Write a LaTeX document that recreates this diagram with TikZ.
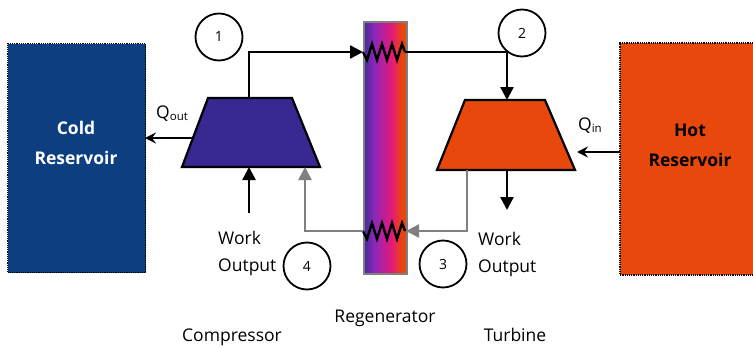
\documentclass[tikz,border=0pt]{standalone}
\usepackage{fontspec}
\setmainfont{Open Sans}
\usetikzlibrary{arrows.meta}
\definecolor{coldblue}{RGB}{12,62,128}
\definecolor{hotorange}{RGB}{232,72,12}
\definecolor{compblue}{RGB}{56,40,145}
\definecolor{regA}{RGB}{60,44,150}
\definecolor{regB}{RGB}{140,40,185}
\definecolor{regC}{RGB}{228,24,122}
\definecolor{regD}{RGB}{232,70,14}
\definecolor{pipegray}{RGB}{128,128,128}
\pgfdeclarehorizontalshading{regenshade}{100bp}{color(0bp)=(regA); color(25bp)=(regA); color(38bp)=(regB); color(58bp)=(regC); color(70bp)=(regD); color(100bp)=(regD)}
\tikzset{
  reservoir/.style={draw=black, densely dotted, line width=1.2pt, inner sep=0pt},
  statecirc/.style={draw=black, circle, line width=1.8pt, minimum size=47pt, inner sep=0pt, font=\fontsize{14}{16}\selectfont},
  pipe/.style={line width=2.4pt, black},
  graypipe/.style={line width=2.4pt, pipegray},
  tri/.style={-{Triangle[length=13pt,width=13pt]}},
  heat/.style={line width=2pt, -{Stealth[length=11pt,width=11pt,inset=4pt]}},
  lbl/.style={font=\fontsize{17.5}{21}\selectfont, inner sep=0pt},
  worklbl/.style={font=\fontsize{17.5}{27}\selectfont, align=left, inner sep=0pt},
  machine/.style={draw=black, line width=2.2pt, line join=miter},
  coil/.style={line width=2.4pt, black, line join=miter}
}
\begin{document}
\begin{tikzpicture}[x=1pt,y=-1pt]
\useasboundingbox (0,0) rectangle (753,348);
% reservoirs
\node[reservoir, fill=coldblue, minimum width=138pt, minimum height=229pt, anchor=north west] (cold) at (7,43) {};
\node[text=white, font=\bfseries\fontsize{17.5}{30}\selectfont, align=center] at (76,143) {Cold\\Reservoir};
\fill[hotorange] (620,43) rectangle (753,275);
\draw[black, densely dotted, line width=1.2pt] (753,43) -- (620,43) -- (620,275) -- (753,275);
\coordinate (hotedge) at (620,152);
\node[text=black, font=\bfseries\fontsize{17.5}{30}\selectfont, align=center] at (690,145) {Hot\\Reservoir};
% regenerator
\shade[shading=regenshade] (363,21) rectangle (406,273);
\node[draw=pipegray, line width=1.8pt, minimum width=43pt, minimum height=252pt, anchor=north west, inner sep=0pt] (regen) at (363,21) {};
% compressor
\draw[machine, fill=compblue] (208,98) -- (292,98) -- (320,167) -- (182,167) -- cycle;
\coordinate (compout) at (249,98);
\coordinate (compheat) at (193,138);
\coordinate (compwork) at (249,167);
\coordinate (compin) at (305,167);
% turbine
\draw[machine, fill=hotorange] (465,100) -- (545,100) -- (575,170) -- (437,170) -- cycle;
\coordinate (turbin) at (507,100);
\coordinate (turbout) at (467,170);
\coordinate (turbwork) at (507,170);
\coordinate (turbheat) at (577,152);
% coils
\draw[coil] (363,52) -- (367,60) -- (372,44) -- (377,60) -- (382,44) -- (387,60) -- (392,44) -- (397,60) -- (402,44) -- (405,52);
\draw[coil] (363,231) -- (367,239) -- (372,223) -- (377,239) -- (382,223) -- (387,239) -- (392,223) -- (397,239) -- (402,223) -- (405,231);
\coordinate (reginTop) at (363,52);
\coordinate (regoutTop) at (405,52);
\coordinate (reginBot) at (406,231);
\coordinate (regoutBot) at (363,231);
% pipes
\draw[pipe, tri] (compout) -- (249,52) -- (reginTop);
\draw[pipe, tri] (regoutTop) -- (507,52) -- (turbin);
\draw[graypipe, -{Triangle[length=13pt,width=13pt]}] (turbout) -- (467,231) -- (reginBot);
\draw[graypipe, -{Triangle[length=13pt,width=13pt]}] (regoutBot) -- (305,231) -- (compin);
\coordinate (workin) at (249,213);
\coordinate (workout) at (507,210);
\draw[pipe, tri] (workin) -- (compwork);
\draw[pipe, tri] (turbwork) -- (workout);
% heat
\coordinate (coldedge) at (145,138);
\draw[heat] (compheat) -- (coldedge);
\draw[heat] (hotedge) -- (turbheat);
\node[lbl, anchor=base west] (qout) at (156,118) {Q\raisebox{-0.25ex}{\fontsize{11.5}{12}\selectfont out}};
\node[lbl, anchor=base west] (qin) at (578,130) {Q\raisebox{-0.25ex}{\fontsize{11.5}{12}\selectfont in}};
% state circles
\node[statecirc] (s1) at (219,37) {1};
\node[statecirc] (s2) at (522,33) {2};
\node[statecirc] (s3) at (443,264) {3};
\node[statecirc] (s4) at (307,266) {4};
% labels
\node[worklbl, anchor=west] (w1) at (218,253) {Work\\Output};
\node[worklbl, anchor=west] (w2) at (478,254) {Work\\Output};
\node[lbl] (lc) at (232,337) {Compressor};
\node[lbl] (lr) at (385,318) {Regenerator};
\node[lbl] (lt) at (515,335) {Turbine};
\end{tikzpicture}
\end{document}
